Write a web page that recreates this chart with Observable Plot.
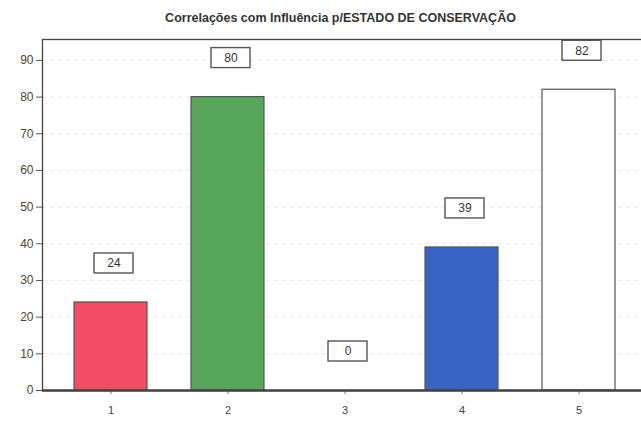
<!DOCTYPE html>
<html>
<head>
<meta charset="utf-8">
<script src="https://cdn.jsdelivr.net/npm/d3@7"></script>
<script src="https://cdn.jsdelivr.net/npm/@observablehq/plot@0.6"></script>
<style>
  html, body { margin: 0; padding: 0; background: #fff; overflow: hidden; width: 641px; height: 422px; }
  #title { height: 36px; font: bold 12.5px "Liberation Sans", Arial, sans-serif; line-height: 36px; text-align: center; color: #333; padding-left: 40px; }
  #chart svg { display: block; max-width: none !important; }
</style>
</head>
<body>
<div id="title">Correlações com Influência p/ESTADO DE CONSERVAÇÃO</div>
<div id="chart"></div>
<script>
// Categories and their counts
const categories = ["1", "2", "3", "4", "5"];
const values = [24, 80, 0, 39, 82];
const colors = ["#f34c66", "#58a65a", "#ffffff", "#3864c6", "#ffffff"];
const yTicks = [0, 10, 20, 30, 40, 50, 60, 70, 80, 90];

const data = categories.map((c, i) => ({cat: c, value: values[i], color: colors[i]}));

const chart = Plot.plot({
  width: 652,
  height: 386,
  marginLeft: 42,
  marginRight: 5,
  marginTop: 3,
  marginBottom: 32,
  style: {fontFamily: "'Liberation Sans', Arial, sans-serif", fontSize: "12px", color: "#444", background: "#fff", maxWidth: "none"},
  x: {domain: categories, paddingInner: 0.38, paddingOuter: 0.258, label: null},
  y: {domain: [0, 95.7], label: null},
  marks: [
    Plot.gridY(yTicks, {stroke: "#d0d0d0", strokeOpacity: 0.5, strokeDasharray: "4,4"}),
    Plot.barY(data, {x: "cat", y: "value", fill: "color", stroke: "#555", strokeWidth: 1.2}),
    // boxed value labels above each bar
    Plot.barY(data, {x: "cat", y1: "value", y2: "value", fill: "#fff", stroke: "#555", strokeWidth: 1.4,
      insetLeft: 20, insetRight: 14, insetTop: -49, insetBottom: 29}),
    Plot.text(data, {x: "cat", y: "value", text: d => String(d.value), dy: -39, dx: 3, fill: "#333", fontSize: 12}),
    Plot.axisY(yTicks, {tickSize: 6, tickPadding: 3, stroke: "#555", fill: "#444", fontSize: 12}),
    Plot.axisX({tickSize: 4, tickPadding: 12, stroke: "#777", fill: "#444", fontSize: 11}),
    Plot.frame({stroke: "#444", strokeWidth: 1.3}),
    Plot.ruleY([0], {stroke: "#444", strokeWidth: 2.5}),
    Plot.ruleX([0], {frameAnchor: "left", stroke: "#444", strokeWidth: 2})
  ]
});
document.getElementById("chart").appendChild(chart);
</script>
</body>
</html>
